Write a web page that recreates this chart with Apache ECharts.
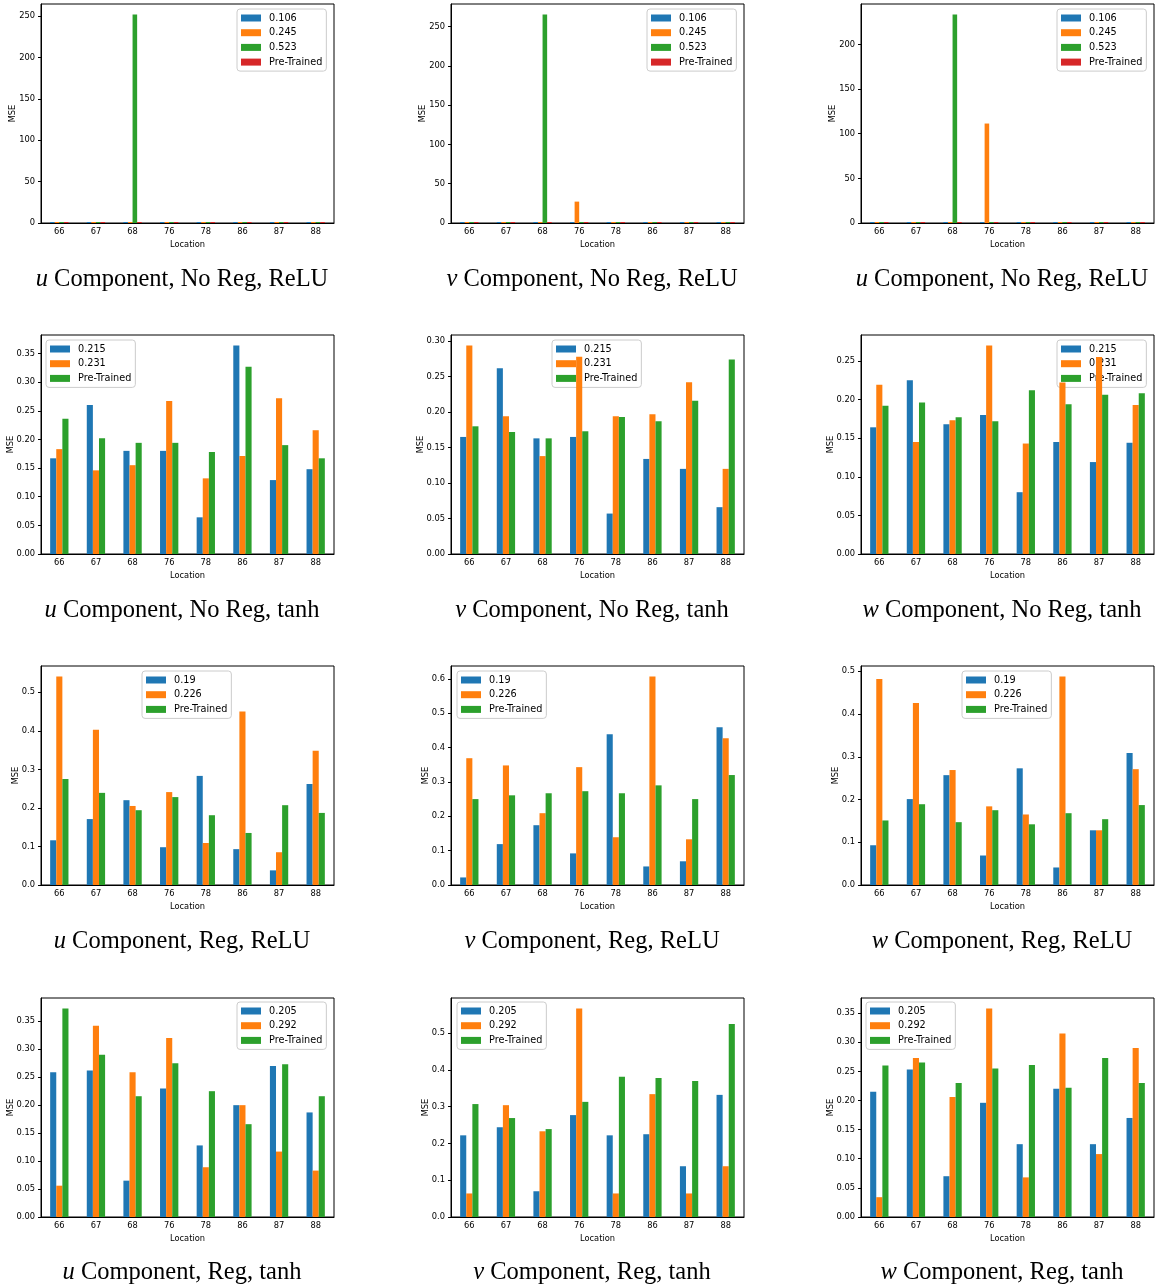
<!DOCTYPE html>
<html><head><meta charset="utf-8">
<script src="https://cdn.jsdelivr.net/npm/echarts@6/dist/echarts.min.js"></script>
<style>
body{margin:0;background:#fff;width:1170px;height:1288px;position:relative;overflow:hidden}
.p{position:absolute}
</style></head><body>
<script>
// ---------------- data ----------------
const categories = ['66','67','68','76','78','86','87','88'];

const namesNoRegReLU = ['0.106','0.245','0.523','Pre-Trained'];
const namesNoRegTanh = ['0.215','0.231','Pre-Trained'];
const namesRegReLU   = ['0.19','0.226','Pre-Trained'];
const namesRegTanh   = ['0.205','0.292','Pre-Trained'];

// Row 1: No Reg, ReLU (4 series)
const uNoRegReLU = [
  [0.3,0.3,0.3,0.5,0.3,0.5,0.5,0.3],
  [0.3,0.4,0.3,0.3,0.3,0.4,0.3,0.5],
  [0.3,0.4,252.3,0.3,0.3,0.3,0.4,0.3],
  [0.5,0.5,0.5,0.5,0.5,0.5,0.5,0.5]
];
const vNoRegReLU = [
  [0.3,0.3,0.3,0.3,0.3,0.5,0.5,0.5],
  [0.3,0.3,0.3,27.2,0.3,0.4,0.3,0.4],
  [0.3,0.3,265.3,0.3,0.4,0.4,0.4,0.4],
  [0.5,0.5,0.5,0.5,0.5,0.5,0.5,0.5]
];
const wNoRegReLU = [
  [0.3,0.4,0.3,0.5,0.3,0.5,0.5,0.3],
  [0.3,0.4,0.3,111.4,0.3,0.4,0.3,0.4],
  [0.3,0.4,233.6,0.3,0.3,0.4,0.4,0.3],
  [0.5,0.5,0.5,0.5,0.5,0.5,0.5,0.5]
];

// Row 2: No Reg, tanh
const uNoRegTanh = [
  [0.167,0.260,0.180,0.180,0.064,0.364,0.129,0.148],
  [0.183,0.146,0.155,0.267,0.132,0.171,0.272,0.216],
  [0.236,0.202,0.194,0.194,0.178,0.327,0.190,0.167]
];
const vNoRegTanh = [
  [0.165,0.262,0.163,0.165,0.057,0.134,0.120,0.066],
  [0.294,0.194,0.138,0.278,0.194,0.197,0.242,0.120],
  [0.180,0.172,0.163,0.173,0.193,0.187,0.216,0.274]
];
const wNoRegTanh = [
  [0.164,0.225,0.168,0.180,0.080,0.145,0.119,0.144],
  [0.219,0.145,0.173,0.270,0.143,0.222,0.255,0.193],
  [0.192,0.196,0.177,0.172,0.212,0.194,0.206,0.208]
];

// Row 3: Reg, ReLU
const uRegReLU = [
  [0.116,0.171,0.220,0.098,0.283,0.093,0.038,0.262],
  [0.541,0.403,0.205,0.241,0.109,0.450,0.085,0.348],
  [0.275,0.239,0.194,0.228,0.181,0.135,0.207,0.187]
];
const vRegReLU = [
  [0.022,0.119,0.174,0.092,0.439,0.054,0.069,0.459],
  [0.369,0.348,0.209,0.343,0.139,0.607,0.133,0.427],
  [0.250,0.261,0.267,0.273,0.267,0.290,0.250,0.320]
];
const wRegReLU = [
  [0.093,0.201,0.257,0.069,0.273,0.041,0.128,0.309],
  [0.482,0.426,0.269,0.184,0.165,0.488,0.128,0.271],
  [0.151,0.189,0.147,0.175,0.142,0.168,0.154,0.187]
];

// Row 4: Reg, tanh
const uRegTanh = [
  [0.259,0.262,0.065,0.230,0.128,0.200,0.270,0.187],
  [0.056,0.342,0.259,0.320,0.089,0.200,0.117,0.083],
  [0.373,0.290,0.216,0.275,0.225,0.166,0.273,0.216]
];
const vRegTanh = [
  [0.222,0.244,0.070,0.277,0.222,0.225,0.138,0.332],
  [0.064,0.304,0.233,0.567,0.064,0.334,0.064,0.138],
  [0.307,0.269,0.239,0.313,0.381,0.378,0.370,0.525]
];
const wRegTanh = [
  [0.215,0.253,0.070,0.196,0.125,0.220,0.125,0.170],
  [0.034,0.273,0.206,0.358,0.068,0.315,0.108,0.290],
  [0.260,0.265,0.230,0.255,0.261,0.222,0.273,0.230]
];

// y tick labels
const ticksU1 = [0,50,100,150,200,250];
const ticksV1 = [0,50,100,150,200,250];
const ticksW1 = [0,50,100,150,200];
const ticksU2 = [0,0.05,0.10,0.15,0.20,0.25,0.30,0.35];
const ticksV2 = [0,0.05,0.10,0.15,0.20,0.25,0.30];
const ticksW2 = [0,0.05,0.10,0.15,0.20,0.25];
const ticksU3 = [0,0.1,0.2,0.3,0.4,0.5];
const ticksV3 = [0,0.1,0.2,0.3,0.4,0.5,0.6];
const ticksW3 = [0,0.1,0.2,0.3,0.4,0.5];
const ticksU4 = [0,0.05,0.10,0.15,0.20,0.25,0.30,0.35];
const ticksV4 = [0,0.1,0.2,0.3,0.4,0.5];
const ticksW4 = [0,0.05,0.10,0.15,0.20,0.25,0.30,0.35];

const captions = [
  '{m|u} Component, No Reg, ReLU','{m|v} Component, No Reg, ReLU','{m|u} Component, No Reg, ReLU',
  '{m|u} Component, No Reg, tanh','{m|v} Component, No Reg, tanh','{m|w} Component, No Reg, tanh',
  '{m|u} Component, Reg, ReLU','{m|v} Component, Reg, ReLU','{m|w} Component, Reg, ReLU',
  '{m|u} Component, Reg, tanh','{m|v} Component, Reg, tanh','{m|w} Component, Reg, tanh'
];

// ---------------- layout / style ----------------
const COLORS = ['#1f77b4','#ff7f0e','#2ca02c','#d62728'];
const panels = [
  {data:uNoRegReLU,names:namesNoRegReLU,ticks:ticksU1,dec:0,legendLeft:237},
  {data:vNoRegReLU,names:namesNoRegReLU,ticks:ticksV1,dec:0,legendLeft:237},
  {data:wNoRegReLU,names:namesNoRegReLU,ticks:ticksW1,dec:0,legendLeft:237},
  {data:uNoRegTanh,names:namesNoRegTanh,ticks:ticksU2,dec:2,legendLeft:46},
  {data:vNoRegTanh,names:namesNoRegTanh,ticks:ticksV2,dec:2,legendLeft:142},
  {data:wNoRegTanh,names:namesNoRegTanh,ticks:ticksW2,dec:2,legendLeft:237},
  {data:uRegReLU,names:namesRegReLU,ticks:ticksU3,dec:1,legendLeft:142},
  {data:vRegReLU,names:namesRegReLU,ticks:ticksV3,dec:1,legendLeft:47},
  {data:wRegReLU,names:namesRegReLU,ticks:ticksW3,dec:1,legendLeft:142},
  {data:uRegTanh,names:namesRegTanh,ticks:ticksU4,dec:2,legendLeft:237},
  {data:vRegTanh,names:namesRegTanh,ticks:ticksV4,dec:1,legendLeft:47},
  {data:wRegTanh,names:namesRegTanh,ticks:ticksW4,dec:2,legendLeft:46}
];
const NAME_GAP = {0:24, 1:21.5, 2:26};

const TF = 'DejaVu Sans';
panels.forEach((p,i)=>{
  const r = Math.floor(i/3), c = i%3;
  const div = document.createElement('div');
  div.className = 'p';
  div.style.left = (c*410)+'px';
  div.style.top = (r*331)+'px';
  div.style.width = (c===2?350:410)+'px';
  div.style.height = (r===3?295:331)+'px';
  document.body.appendChild(div);
  const chart = echarts.init(div, null, {renderer:'canvas'});
  const n = p.data.length;
  const mx = Math.max(...p.data.flat())*1.05;
  const step = p.ticks[1]-p.ticks[0];
  chart.setOption({
    animation:false,
    grid:{left:41,top:(r===3?5:4),width:293,height:219,show:true,borderColor:'#000',borderWidth:1,
      containLabel:false,outerBoundsMode:'none'},
    xAxis:{
      type:'category',data:categories,
      name:'Location',nameLocation:'middle',nameGap:17.5,nameMoveOverlap:false,
      nameTextStyle:{fontFamily:TF,fontSize:8.3,color:'#000'},
      axisLine:{lineStyle:{color:'#000',width:1}},
      axisTick:{alignWithLabel:true,length:3,lineStyle:{color:'#000'}},
      axisLabel:{fontFamily:TF,fontSize:8.3,color:'#000',margin:5},
      splitLine:{show:false}
    },
    yAxis:{
      type:'value',min:0,max:mx,interval:step,
      name:'MSE',nameLocation:'middle',nameGap:NAME_GAP[p.dec],nameMoveOverlap:false,
      nameTextStyle:{fontFamily:TF,fontSize:8.3,color:'#000'},
      axisLine:{show:true,lineStyle:{color:'#000',width:1}},
      axisTick:{show:true,length:3,lineStyle:{color:'#000'},customValues:p.ticks},
      axisLabel:{fontFamily:TF,fontSize:8.3,color:'#000',margin:6,customValues:p.ticks,
        formatter:v=>Number(v).toFixed(p.dec)},
      splitLine:{show:false}
    },
    legend:{
      orient:'vertical',left:p.legendLeft,top:9,z:1,
      itemWidth:20,itemHeight:7,itemGap:2.7,icon:'rect',
      padding:[3,4,3,4],borderColor:'#cccccc',borderWidth:1,borderRadius:3,backgroundColor:'#fff',
      textStyle:{fontFamily:TF,fontSize:9.7,color:'#000',lineHeight:12,padding:[0,0,0,3]},
      data:p.names
    },
    series:p.data.map((d,k)=>({
      type:'bar',name:p.names[k],data:d,
      barWidth:(50/n)+'%',barGap:'0%',
      barMinHeight:(r===0?1:0),
      itemStyle:{color:COLORS[k]},z:2
    })),
    graphic:[{
      type:'text',x:182,y:280,
      style:{
        text:captions[i],
        fontFamily:'Liberation Serif',fontSize:24.5,fill:'#000',
        align:'center',verticalAlign:'middle',textAlign:'center',textVerticalAlign:'middle',
        rich:{m:{fontFamily:'Liberation Serif',fontSize:24.5,fontStyle:'italic',fill:'#000'}}
      }
    }]
  });
});
</script>
</body></html>
